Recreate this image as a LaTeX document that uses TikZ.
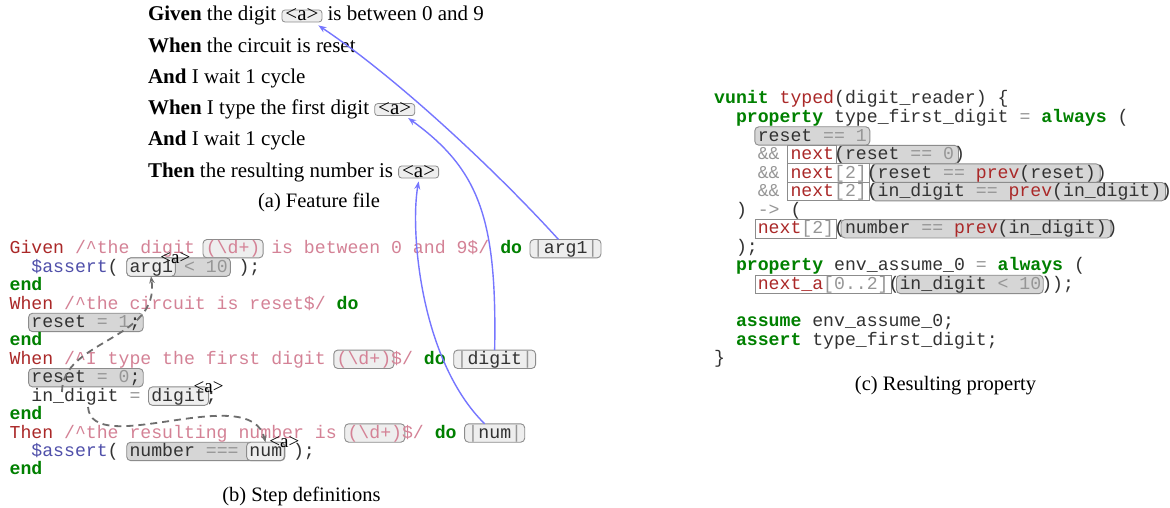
\documentclass[tikz,border=0pt]{standalone}
\usepackage{fontspec}
\setmainfont{Liberation Serif}
\newfontfamily\codefont{Liberation Mono}
\usetikzlibrary{arrows.meta,calc}
\definecolor{kgreen}{RGB}{0,128,0}
\definecolor{kred}{RGB}{170,40,40}
\definecolor{kpink}{RGB}{212,130,150}
\definecolor{kgray}{RGB}{150,150,150}
\definecolor{kblue}{RGB}{80,80,170}
\definecolor{codetext}{RGB}{50,50,50}
\definecolor{boxborder}{RGB}{140,140,140}
\definecolor{grayfill}{RGB}{214,214,214}
\definecolor{lightfill}{RGB}{238,238,238}
\definecolor{arrblue}{RGB}{118,118,255}
\definecolor{dashgray}{RGB}{110,110,110}
\newcommand\cK[1]{{\bfseries\color{kgreen}#1}}
\newcommand\cR[1]{{\color{kred}#1}}
\newcommand\cP[1]{{\color{kpink}#1}}
\newcommand\cG[1]{{\color{kgray}#1}}
\newcommand\cB[1]{{\color{kblue}#1}}
\newcommand\cw{10.9}
\newcommand\lx{9.6}
\newcommand\rx{714.2}
\newcommand\lbase[1]{253.8+18.43*(#1-1)}
\newcommand\rbase[1]{104+18.55*(#1-1)}
% name, style, x0, i, j, baseline, padL, padR
\newcommand\cbox[8]{\node[#2, minimum width={\cw*(#5-#4)+#7+#8}, minimum height=18.4, inner sep=0, outer sep=0] (#1) at ({#3+\cw*#4-#7+(\cw*(#5-#4)+#7+#8)/2}, {#6-5.1}) {};}
\tikzset{
  codetxt/.style={anchor=base west, inner sep=0, outer sep=0, text=codetext, font={\codefont\fontsize{18.17}{18.5}\selectfont}},
  ftxt/.style={anchor=base west, inner sep=0, outer sep=0, font={\fontsize{21}{25}\selectfont}},
  captxt/.style={anchor=base, inner sep=0, font={\fontsize{20.5}{24}\selectfont}},
  abox/.style={anchor=base west, draw=boxborder, fill=lightfill, rounded corners=3, line width=0.8, inner xsep=3.5, inner ysep=0.5, text height=10.5, text depth=0.5, font={\fontsize{21}{25}\selectfont}},
  gbox/.style={draw=boxborder, fill=grayfill, rounded corners=4, line width=0.9},
  lbox/.style={draw=boxborder, fill=lightfill, rounded corners=4, line width=0.9},
  nbox/.style={draw=boxborder, fill=white, line width=0.9},
  lbl/.style={inner sep=0, font={\fontsize{19}{19}\selectfont}},
  bluearr/.style={draw=arrblue, line width=1.4, -{Stealth[length=8pt,width=6pt]}},
  dasharr/.style={draw=dashgray, line width=1.8, dash pattern=on 7pt off 5pt, -{Stealth[length=7pt,width=5.5pt]}}
}
\begin{document}
\begin{tikzpicture}[x=1pt,y=-1pt]
\fill[white] (0,0) rectangle (1170,508);
\useasboundingbox (0,0) rectangle (1170,508);

% ---------- (a) Feature file ----------
\node[ftxt] (f1) at (148,21) {\textbf{Given} the digit};
\node[abox] (a1) at ($(f1.base east)+(5.25,0)$) {<a>};
\node[ftxt] (f1b) at ($(a1.base east)+(5.25,0)$) {is between 0 and 9};
\node[ftxt] (f2) at (148,52.2) {\textbf{When} the circuit is reset};
\node[ftxt] (f3) at (148,83.4) {\textbf{And} I wait 1 cycle};
\node[ftxt] (f4) at (148,114.6) {\textbf{When} I type the first digit};
\node[abox] (a4) at ($(f4.base east)+(5.25,0)$) {<a>};
\node[ftxt] (f5) at (148,145.8) {\textbf{And} I wait 1 cycle};
\node[ftxt] (f6) at (148,177) {\textbf{Then} the resulting number is};
\node[abox] (a6) at ($(f6.base east)+(5.25,0)$) {<a>};
\node[captxt] (capa) at (319,207) {(a) Feature file};

% ---------- (b) Step definitions: boxes ----------
\cbox{bD1}{lbox}{\lx}{18}{23}{\lbase{1}}{2.8}{2.8}
\cbox{bArg}{lbox}{\lx}{48}{54}{\lbase{1}}{2.8}{2.8}
\cbox{gA}{gbox}{\lx}{11}{20}{\lbase{2}}{2.8}{2.8}
\cbox{iArg}{lbox}{\lx}{11}{15}{\lbase{2}}{2.8}{2.2}
\cbox{gR1}{gbox}{\lx}{2}{12}{\lbase{5}}{2.8}{2.8}
\cbox{bD2}{lbox}{\lx}{30}{35}{\lbase{7}}{2.8}{2.8}
\cbox{bDigit}{lbox}{\lx}{41}{48}{\lbase{7}}{2.8}{2.8}
\cbox{gR0}{gbox}{\lx}{2}{12}{\lbase{8}}{2.8}{2.8}
\cbox{iDigit}{lbox}{\lx}{13}{18}{\lbase{9}}{2.8}{2.8}
\cbox{bD3}{lbox}{\lx}{31}{36}{\lbase{11}}{2.8}{2.8}
\cbox{bNum}{lbox}{\lx}{42}{47}{\lbase{11}}{2.8}{2.8}
\cbox{gN}{gbox}{\lx}{11}{25}{\lbase{12}}{2.8}{2.8}
\cbox{iNum}{lbox}{\lx}{22}{25}{\lbase{12}}{2.8}{2.2}

% ---------- (b) Step definitions: text ----------
\node[codetxt] (l1) at ({\lx}, {\lbase{1}}) {\cR{Given} \cP{/\textasciicircum the digit (\textbackslash d+) is between 0 and 9\$/} \cK{do} \cG{|}arg1\cG{|}};
\node[codetxt] (l2) at ({\lx+2*\cw}, {\lbase{2}}) {\cB{\$assert}( arg1 \cG{< 10} );};
\node[codetxt] (l3) at ({\lx}, {\lbase{3}}) {\cK{end}};
\node[codetxt] (l4) at ({\lx}, {\lbase{4}}) {\cR{When} \cP{/\textasciicircum the circuit is reset\$/} \cK{do}};
\node[codetxt] (l5) at ({\lx+2*\cw}, {\lbase{5}}) {reset \cG{= 1};};
\node[codetxt] (l6) at ({\lx}, {\lbase{6}}) {\cK{end}};
\node[codetxt] (l7) at ({\lx}, {\lbase{7}}) {\cR{When} \cP{/\textasciicircum I type the first digit (\textbackslash d+)\$/} \cK{do} \cG{|}digit\cG{|}};
\node[codetxt] (l8) at ({\lx+2*\cw}, {\lbase{8}}) {reset \cG{= 0};};
\node[codetxt] (l9) at ({\lx+2*\cw}, {\lbase{9}}) {in\_digit \cG{=} digit;};
\node[codetxt] (l10) at ({\lx}, {\lbase{10}}) {\cK{end}};
\node[codetxt] (l11) at ({\lx}, {\lbase{11}}) {\cR{Then} \cP{/\textasciicircum the resulting number is (\textbackslash d+)\$/} \cK{do} \cG{|}num\cG{|}};
\node[codetxt] (l12) at ({\lx+2*\cw}, {\lbase{12}}) {\cB{\$assert}( number \cG{===} num );};
\node[codetxt] (l13) at ({\lx}, {\lbase{13}}) {\cK{end}};
\node[captxt] (capb) at (301.5,501) {(b) Step definitions};

% ---------- (c) Resulting property: boxes ----------
\cbox{gP1}{gbox}{\rx}{4}{14}{\rbase{3}}{3}{3}
\cbox{n1}{nbox}{\rx}{7}{11}{\rbase{4}}{2.6}{2.6}
\cbox{gP2}{gbox}{\rx}{12}{22}{\rbase{4}}{6}{4.5}
\cbox{n2}{nbox}{\rx}{7}{14}{\rbase{5}}{2.6}{2.6}
\cbox{gP3}{gbox}{\rx}{15}{35}{\rbase{5}}{6}{4.5}
\cbox{n3}{nbox}{\rx}{7}{14}{\rbase{6}}{2.6}{2.6}
\cbox{gP4}{gbox}{\rx}{15}{41}{\rbase{6}}{6}{4.5}
\cbox{n4}{nbox}{\rx}{4}{11}{\rbase{8}}{2.6}{2.6}
\cbox{gP5}{gbox}{\rx}{12}{36}{\rbase{8}}{4}{4.5}
\cbox{n5}{nbox}{\rx}{4}{16}{\rbase{11}}{2.6}{2.6}
\cbox{gP6}{gbox}{\rx}{17}{30}{\rbase{11}}{3}{2}

% ---------- (c) Resulting property: text ----------
\node[codetxt] (r1) at ({\rx}, {\rbase{1}}) {\cK{vunit} \cR{typed}(digit\_reader) \{};
\node[codetxt] (r2) at ({\rx+2*\cw}, {\rbase{2}}) {\cK{property} type\_first\_digit \cG{=} \cK{always} (};
\node[codetxt] (r3) at ({\rx+4*\cw}, {\rbase{3}}) {reset \cG{== 1}};
\node[codetxt] (r4) at ({\rx+4*\cw}, {\rbase{4}}) {\cG{\&\&} \cR{next}(reset \cG{== 0})};
\node[codetxt] (r5) at ({\rx+4*\cw}, {\rbase{5}}) {\cG{\&\&} \cR{next}\cG{[2]}(reset \cG{==} \cR{prev}(reset))};
\node[codetxt] (r6) at ({\rx+4*\cw}, {\rbase{6}}) {\cG{\&\&} \cR{next}\cG{[2]}(in\_digit \cG{==} \cR{prev}(in\_digit))};
\node[codetxt] (r7) at ({\rx+2*\cw}, {\rbase{7}}) {) \cG{->} (};
\node[codetxt] (r8) at ({\rx+4*\cw}, {\rbase{8}}) {\cR{next}\cG{[2]}(number \cG{==} \cR{prev}(in\_digit))};
\node[codetxt] (r9) at ({\rx+2*\cw}, {\rbase{9}}) {);};
\node[codetxt] (r10) at ({\rx+2*\cw}, {\rbase{10}}) {\cK{property} env\_assume\_0 \cG{=} \cK{always} (};
\node[codetxt] (r11) at ({\rx+4*\cw}, {\rbase{11}}) {\cR{next\_a}\cG{[0..2]}(in\_digit \cG{< 10}));};
\node[codetxt] (r13) at ({\rx+2*\cw}, {\rbase{13}}) {\cK{assume} env\_assume\_0;};
\node[codetxt] (r14) at ({\rx+2*\cw}, {\rbase{14}}) {\cK{assert} type\_first\_digit;};
\node[codetxt] (r15) at ({\rx}, {\rbase{15}}) {\}};
\node[captxt] (capc) at (945.5,390) {(c) Resulting property};

% ---------- labels ----------
\node[lbl] (la1) at (iArg.north east) {<a>};
\node[lbl] (la2) at (iDigit.north east) {<a>};
\node[lbl] (la3) at (iNum.north east) {<a>};

% ---------- dashed connectors ----------
\coordinate (d1s) at (62,392);
\coordinate (d2s) at (88,407);
\draw[dasharr] (d1s) .. controls (62,340) and (160,340) .. (iArg.south);
\draw[dasharr] (d2s) .. controls (92,460) and (250,380) .. (iNum.north);

% ---------- blue connectors ----------
\draw[bluearr] ($(bArg.north)+(-7,0)$) .. controls (500,175) and (400,80) .. ($(a1.south east)+(-4,3)$);
\draw[bluearr] (bDigit.north) .. controls (497,220) and (480,170) .. ($(a4.south east)+(-7,2)$);
\draw[bluearr] ($(bNum.north)+(-10,0)$) .. controls (420,360) and (410,230) .. ($(a6.south)+(0,3)$);
\end{tikzpicture}
\end{document}
